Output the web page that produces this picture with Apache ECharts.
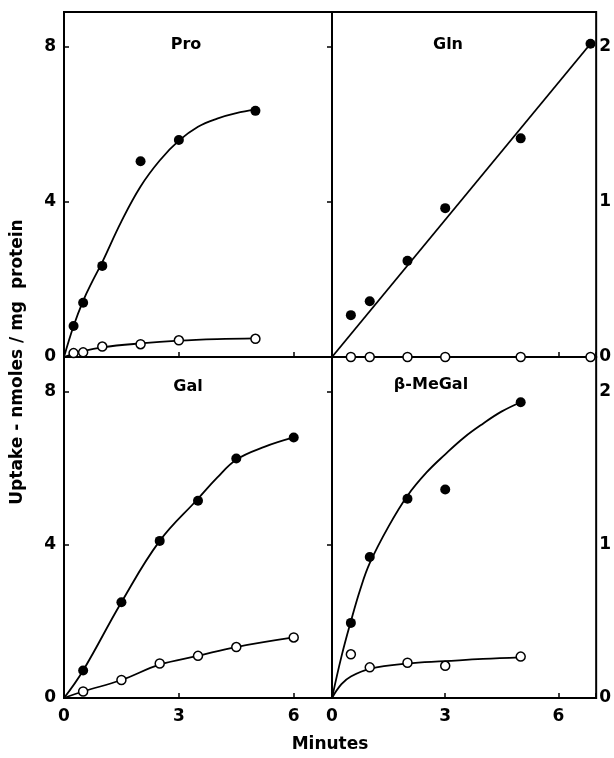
<!DOCTYPE html>
<html><head><meta charset="utf-8">
<script src="https://cdn.jsdelivr.net/npm/echarts@6/dist/echarts.min.js"></script>
<style>html,body{margin:0;padding:0;background:#fff}#c{width:614px;height:758px}</style>
</head><body><div id="c"></div>
<script>
// ---------- labels ----------
const panelNames = ['Pro', 'Gln', 'Gal', 'β-MeGal'];
const yTitle = 'Uptake - nmoles / mg  protein';
const xTitle = 'Minutes';
const leftTickLabels = [0, 4, 8];
const rightTickLabels = [0, 1, 2];
const xTickLabels = [0, 3, 6];

// ---------- Pro (left scale, 0-8) ----------
const proX = [0.25, 0.5, 1, 2, 3, 5];
const proFilled = [0.8, 1.4, 2.35, 5.05, 5.6, 6.35];
const proOpen = [0.1, 0.12, 0.27, 0.33, 0.43, 0.47];
const proFilledCurveX = [0, 0.25, 0.5, 0.75, 1, 1.5, 2, 2.5, 3, 3.5, 4, 4.5, 5];
const proFilledCurveY = [0, 0.8, 1.45, 1.97, 2.45, 3.5, 4.4, 5.07, 5.58, 5.94, 6.15, 6.29, 6.38];
const proOpenCurveX = [0, 0.5, 1, 2, 3, 4, 5];
const proOpenCurveY = [0, 0.15, 0.25, 0.35, 0.42, 0.46, 0.48];

// ---------- Gln (right scale, 0-2) ----------
const glnX = [0.5, 1, 2, 3, 5, 6.85];
const glnFilled = [0.27, 0.36, 0.62, 0.96, 1.41, 2.02];
const glnOpen = [0, 0, 0, 0, 0, 0];
const glnFilledCurveX = [0, 6.85];
const glnFilledCurveY = [0, 2.02];

// ---------- Gal (left scale, 0-8) ----------
const galX = [0.5, 1.5, 2.5, 3.5, 4.5, 6];
const galFilled = [0.72, 2.5, 4.1, 5.15, 6.25, 6.8];
const galOpen = [0.17, 0.47, 0.9, 1.1, 1.33, 1.58];
const galFilledCurveX = [0, 0.5, 1.5, 2.5, 3.5, 4, 4.5, 5.25, 6];
const galFilledCurveY = [0, 0.72, 2.5, 4.1, 5.2, 5.75, 6.22, 6.56, 6.8];
const galOpenCurveX = [0, 0.5, 1.5, 2.5, 3.5, 4.5, 6];
const galOpenCurveY = [0, 0.17, 0.47, 0.87, 1.1, 1.33, 1.58];

// ---------- beta-MeGal (right scale, 0-2) ----------
const megX = [0.5, 1, 2, 3, 5];
const megFilled = [0.49, 0.92, 1.3, 1.36, 1.93];
const megOpen = [0.285, 0.2, 0.23, 0.21, 0.27];
const megFilledCurveX = [0, 0.25, 0.5, 0.75, 1, 1.5, 2, 2.5, 3, 3.5, 4, 4.5, 5];
const megFilledCurveY = [0, 0.27, 0.5, 0.71, 0.88, 1.12, 1.32, 1.47, 1.59, 1.7, 1.79, 1.87, 1.93];
const megOpenCurveX = [0, 0.25, 0.5, 1, 2, 3, 4, 5];
const megOpenCurveY = [0, 0.09, 0.14, 0.19, 0.225, 0.24, 0.255, 0.265];

// ---------- build ----------
const zip = (xs, ys) => xs.map((x, i) => [x, ys[i]]);
const FONT = 'DejaVu Sans';
const grids = [
  {left: 64, top: 12, width: 268, height: 345},
  {left: 332, top: 12, width: 268, height: 345},
  {left: 64, top: 357, width: 268, height: 341},
  {left: 332, top: 357, width: 268, height: 341}
].map(g => Object.assign({show: true, borderColor: '#000', borderWidth: 2, backgroundColor: 'transparent', containLabel: false}, g));

const labelStyle = {color: '#000', fontFamily: FONT, fontWeight: 'bold', fontSize: 17};
function xAxis(i, showLabels) {
  return {
    type: 'value', gridIndex: i, min: 0, max: 7, interval: 3,
    axisLine: {show: false}, splitLine: {show: false},
    axisTick: {show: true, inside: true, length: 5, lineStyle: {color: '#000', width: 1.5}},
    axisLabel: Object.assign({show: showLabels, margin: 10,
      formatter: v => xTickLabels.includes(v) ? String(v) : ''}, labelStyle)
  };
}
function yAxis(i, right) {
  const ticks = right ? rightTickLabels : leftTickLabels;
  return {
    type: 'value', gridIndex: i, position: right ? 'right' : 'left',
    min: 0, max: right ? 2.225 : 8.9, interval: right ? 1 : 4,
    axisLine: {show: false}, splitLine: {show: false},
    axisTick: {show: true, inside: true, length: 5, lineStyle: {color: '#000', width: 1.5}},
    axisLabel: Object.assign({margin: right ? 3 : 8,
      formatter: v => ticks.includes(v) ? String(v) : ''}, labelStyle)
  };
}

function curve(i, xs, ys, smooth) {
  return {type: 'line', xAxisIndex: i, yAxisIndex: i, data: zip(xs, ys), showSymbol: false,
    smooth: smooth, lineStyle: {color: '#000', width: 1.8}, z: 2, silent: true};
}
function dots(i, xs, ys, open) {
  return {type: 'scatter', xAxisIndex: i, yAxisIndex: i, data: zip(xs, ys), symbol: 'circle',
    symbolSize: open ? 9 : 10,
    itemStyle: open ? {color: '#fff', borderColor: '#000', borderWidth: 1.5, opacity: 1} : {color: '#000', opacity: 1},
    z: 3, silent: true};
}

const series = [
  curve(0, proFilledCurveX, proFilledCurveY, 0.4),
  curve(0, proOpenCurveX, proOpenCurveY, 0.4),
  dots(0, proX, proFilled, false),
  dots(0, proX, proOpen, true),
  curve(1, glnFilledCurveX, glnFilledCurveY, false),
  dots(1, glnX, glnFilled, false),
  dots(1, glnX, glnOpen, true),
  curve(2, galFilledCurveX, galFilledCurveY, 0.4),
  curve(2, galOpenCurveX, galOpenCurveY, 0.4),
  dots(2, galX, galFilled, false),
  dots(2, galX, galOpen, true),
  curve(3, megFilledCurveX, megFilledCurveY, 0.4),
  curve(3, megOpenCurveX, megOpenCurveY, 0.4),
  dots(3, megX, megFilled, false),
  dots(3, megX, megOpen, true)
];

const titlePos = [[186, 45], [448, 45], [188, 387], [431, 385]];
const graphic = panelNames.map((t, i) => ({
  type: 'text', x: titlePos[i][0], y: titlePos[i][1], z: 10,
  style: {text: t, fill: '#000', font: 'bold 16px "' + FONT + '"', textAlign: 'center', textVerticalAlign: 'middle'}
}));
graphic.push({type: 'text', x: 18, y: 362, rotation: Math.PI / 2, z: 10,
  style: {text: yTitle, fill: '#000', font: 'bold 17px "' + FONT + '"', textAlign: 'center', textVerticalAlign: 'middle'}});
graphic.push({type: 'text', x: 330, y: 745, z: 10,
  style: {text: xTitle, fill: '#000', font: 'bold 17px "' + FONT + '"', textAlign: 'center', textVerticalAlign: 'middle'}});

const chart = echarts.init(document.getElementById('c'), null, {renderer: 'canvas'});
chart.setOption({
  backgroundColor: '#fff',
  animation: false,
  grid: grids,
  xAxis: [xAxis(0, false), xAxis(1, false), xAxis(2, true), xAxis(3, true)],
  yAxis: [yAxis(0, false), yAxis(1, true), yAxis(2, false), yAxis(3, true)],
  series: series,
  graphic: graphic
});
</script>
</body></html>
